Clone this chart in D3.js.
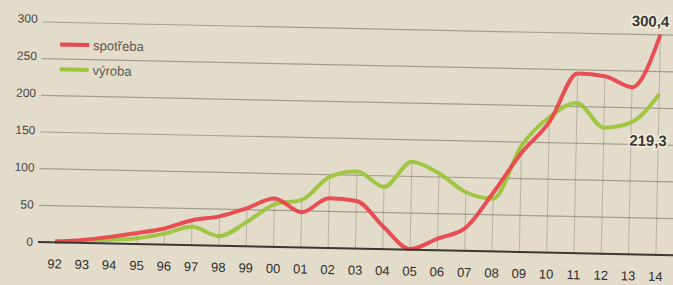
<!DOCTYPE html>
<meta charset="utf-8">
<html>
<style>
  body { margin: 0; background: #e3dccb; }
  svg { display: block; font-family: "Liberation Sans", Arial, sans-serif; }
</style>
<body>
<div id="chart"></div>
<script src="https://d3js.org/d3.v7.min.js"></script>
<script>
// data
const years = ["92","93","94","95","96","97","98","99","00","01","02","03","04","05","06","07","08","09","10","11","12","13","14"];
const spotreba = [1, 4, 9, 15, 22, 34, 40, 52, 66, 48, 68, 65, 31, 1, 16, 31, 80, 135, 178, 245, 242, 228, 300.4];
const vyroba   = [1, 3, 5, 8, 15, 25, 13, 33, 58, 65, 97, 105, 85, 120, 105, 80, 72, 145, 185, 205, 172, 180, 219.3];
const yTicks = [0, 50, 100, 150, 200, 250, 300];

const W = 673, H = 285;
const red = "#e8474c", green = "#9cc43c";

const svg = d3.select("#chart").append("svg")
  .attr("width", W).attr("height", H);

svg.append("rect").attr("width", W).attr("height", H).attr("fill", "#e3dccb");

// the scan is a bit tilted
const g = svg.append("g").attr("transform", "rotate(1.2,40,242)");

const x = d3.scalePoint().domain(years).range([55, 656]);
const y = d3.scaleLinear().domain([0, 300]).range([242, 22]);

// horizontal grid
g.selectAll(".grid").data(yTicks.slice(1)).join("line")
  .attr("x1", 38).attr("x2", 700)
  .attr("y1", d => y(d)).attr("y2", d => y(d))
  .attr("stroke", "#8a8477").attr("stroke-width", 1.2).attr("opacity", 0.7);

// drop lines
g.selectAll(".drop").data(years).join("line")
  .attr("x1", d => x(d)).attr("x2", d => x(d))
  .attr("y1", y(0))
  .attr("y2", (d, i) => y(Math.max(spotreba[i], vyroba[i])))
  .attr("stroke", "#7d786c").attr("stroke-width", 0.8).attr("opacity", 0.5);

// y labels
g.selectAll(".ylab").data(yTicks).join("text")
  .attr("x", 33).attr("y", d => y(d) + 4 - d / 100)
  .attr("text-anchor", "end")
  .attr("font-size", 12).attr("fill", "#4a4842")
  .text(d => d);

// x labels
g.selectAll(".xlab").data(years).join("text")
  .attr("x", d => x(d)).attr("y", 268)
  .attr("text-anchor", "middle")
  .attr("font-size", 13).attr("fill", "#2e2d2a")
  .text(d => d);

// lines
const line = d3.line().x((d, i) => x(years[i])).y(d => y(d)).curve(d3.curveMonotoneX);

g.append("path").datum(vyroba)
  .attr("d", line).attr("fill", "none")
  .attr("stroke", green).attr("stroke-width", 4)
  .attr("stroke-linejoin", "round").attr("opacity", 0.95);

g.append("path").datum(spotreba)
  .attr("d", line).attr("fill", "none")
  .attr("stroke", red).attr("stroke-width", 4)
  .attr("stroke-linejoin", "round").attr("opacity", 0.95);

// baseline
g.append("line")
  .attr("x1", 38).attr("x2", 700)
  .attr("y1", y(0)).attr("y2", y(0))
  .attr("stroke", "#3a3833").attr("stroke-width", 2);

// legend
const legend = [["spotřeba", red, 44], ["výroba", green, 69]];
legend.forEach(([name, col, ly]) => {
  g.append("line").attr("x1", 56).attr("x2", 85).attr("y1", ly).attr("y2", ly)
    .attr("stroke", col).attr("stroke-width", 4);
  g.append("text").attr("x", 89).attr("y", ly + 5)
    .attr("font-size", 13).attr("fill", "#5a5850").text(name);
});

// end value labels
const last = years.length - 1;
g.append("text")
  .attr("x", 627).attr("y", y(spotreba[last]) - 8)
  .attr("font-size", 15).attr("font-weight", "bold").attr("fill", "#3a3833")
  .attr("stroke", "#f4efe2").attr("stroke-width", 3).attr("paint-order", "stroke")
  .text("300,4");
g.append("text")
  .attr("x", 627).attr("y", y(vyroba[last]) + 52)
  .attr("font-size", 15).attr("font-weight", "bold").attr("fill", "#3a3833")
  .attr("stroke", "#f4efe2").attr("stroke-width", 3).attr("paint-order", "stroke")
  .text("219,3");
</script>
</body>
</html>
